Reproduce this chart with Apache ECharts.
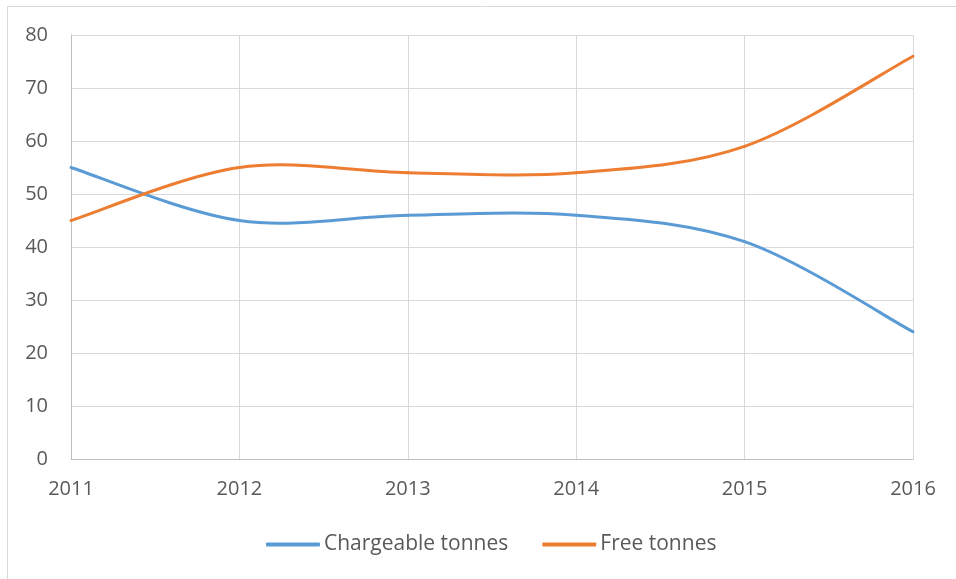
<!DOCTYPE html>
<html>
<head>
<meta charset="utf-8">
<script src="https://cdn.jsdelivr.net/npm/echarts@6/dist/echarts.min.js"></script>
<style>
    html, body { margin: 0; padding: 0; background: #fff; }
    #chart { width: 956px; height: 579px; }
</style>
</head>
<body>
<div id="chart"></div>
<script>
const years = ['2011', '2012', '2013', '2014', '2015', '2016'];
const chargeable = [55, 45, 46, 46, 41, 24];
const free = [45, 55, 54, 54, 59, 76];

const font = '"Open Sans", sans-serif';
const textColor = '#595959';

// Excel-style smoothed line: one bezier per segment, catmull-rom control points
const makeCurve = (values, color) => (params, api) => {
    const i = params.dataIndex;
    if (i >= values.length - 1) return null;
    const pt = (k) => {
        const kk = Math.max(0, Math.min(values.length - 1, k));
        return api.coord([kk, values[kk]]);
    };
    const p0 = pt(i - 1), p1 = pt(i), p2 = pt(i + 1), p3 = pt(i + 2);
    return {
        type: 'bezierCurve',
        shape: {
            x1: p1[0], y1: p1[1],
            cpx1: p1[0] + (p2[0] - p0[0]) / 6,
            cpy1: p1[1] + (p2[1] - p0[1]) / 6,
            cpx2: p2[0] - (p3[0] - p1[0]) / 6,
            cpy2: p2[1] - (p3[1] - p1[1]) / 6,
            x2: p2[0], y2: p2[1]
        },
        style: { stroke: color, lineWidth: 3, fill: null, lineCap: 'round' },
        silent: true
    };
};

const chart = echarts.init(document.getElementById('chart'));

const option = {
    animation: false,
    graphic: [
        {
            type: 'rect',
            shape: { x: 7.5, y: 6.5, width: 1000, height: 1000 },
            style: { fill: 'none', stroke: '#d9d9d9', lineWidth: 1 },
            silent: true
        }
    ],
    grid: { left: 71, top: 35, right: 43, bottom: 120 },
    legend: {
        top: 534,
        left: 266,
        padding: 0,
        itemWidth: 54,
        itemHeight: 4,
        itemGap: 34,
        icon: 'roundRect',
        textStyle: { fontFamily: font, fontSize: 21, color: textColor, padding: [0, 0, 0, -1] },
        data: ['Chargeable tonnes', 'Free tonnes']
    },
    xAxis: {
        type: 'category',
        data: years,
        boundaryGap: false,
        axisLine: { show: true, lineStyle: { color: '#bfbfbf', width: 1 } },
        axisTick: { show: false },
        axisLabel: { fontFamily: font, fontSize: 20, color: textColor, margin: 20 },
        splitLine: { show: true, lineStyle: { color: '#d9d9d9', width: 1 } }
    },
    yAxis: {
        type: 'value',
        min: 0,
        max: 80,
        interval: 10,
        axisLine: { show: true, lineStyle: { color: '#bfbfbf', width: 1 } },
        axisTick: { show: false },
        axisLabel: { fontFamily: font, fontSize: 20, color: textColor, margin: 23 },
        splitLine: { show: true, lineStyle: { color: '#d9d9d9', width: 1 } }
    },
    series: [
        {
            name: 'Chargeable tonnes',
            type: 'custom',
            data: chargeable.map((v, i) => [i, v]),
            renderItem: makeCurve(chargeable, '#5b9bd5'),
            itemStyle: { color: '#5b9bd5' },
            encode: { x: 0, y: 1 }
        },
        {
            name: 'Free tonnes',
            type: 'custom',
            data: free.map((v, i) => [i, v]),
            renderItem: makeCurve(free, '#ed7d31'),
            itemStyle: { color: '#ed7d31' },
            encode: { x: 0, y: 1 }
        }
    ]
};

chart.setOption(option);
</script>
</body>
</html>
